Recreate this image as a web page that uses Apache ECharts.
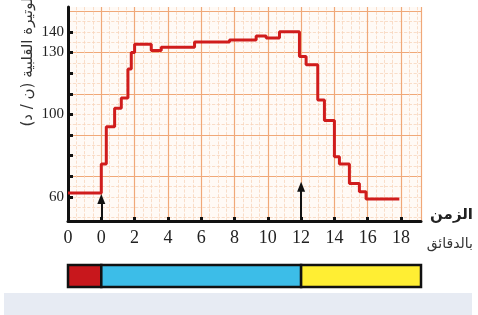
<!DOCTYPE html>
<html>
<head>
<meta charset="utf-8">
<script src="https://cdn.jsdelivr.net/npm/echarts@6.0.0/dist/echarts.min.js"></script>
<style>
  html, body { margin: 0; padding: 0; background: #fff; }
  #chart { width: 478px; height: 315px; }
</style>
</head>
<body>
<div id="chart"></div>
<script>
// heart rate (step curve), minutes vs beats per minute
const times = [-2, 0, 0.3, 0.8, 1.2, 1.6, 1.8, 2.0, 3.0, 3.6, 5.6, 7.7, 9.3, 9.9, 10.7, 11.9, 12.3, 13.0, 13.4, 14.0, 14.3, 14.9, 15.5, 15.9, 17.9];
const rates = [62, 76, 94, 103, 108, 122, 130, 134, 131, 132.5, 135, 136, 138, 137, 140, 128, 124, 107, 97, 79.5, 76, 66.5, 62.5, 59, 59];

// x tick labels (the axis origin is labelled 0 too)
const xTicks = [-2, 0, 2, 4, 6, 8, 10, 12, 14, 16, 18];
const yLabels = [60, 100, 130, 140];
const yTicks = [60, 70, 80, 90, 100, 110, 120, 130, 140];

// arrows marking start / end of effort
const arrowTimes = [0, 12];
const arrowTips = [59, 65];

// phases bar under the chart
const phaseStarts = [-2, 0, 12];
const phaseEnds = [0, 12, 19.2];
const phaseColors = ['#c8171c', '#3cbde8', '#ffee33'];

const xMin = -2, xMax = 19.2;
const yMin = 48.4, yMax = 152;

const majorY = [70, 90, 110, 130, 150];
const minorY = [];
for (let v = 50; v < yMax; v += 5) {
  if (majorY.indexOf(v) < 0) minorY.push(v);
}

const serif = 'Liberation Serif';
const arabic = 'DejaVu Sans';

const chart = echarts.init(document.getElementById('chart'), null, { renderer: 'canvas' });

const yBase = {
  gridIndex: 0,
  type: 'value',
  min: yMin,
  max: yMax,
  axisLine: { show: false },
  axisLabel: { show: false },
  axisTick: { show: false }
};

chart.setOption({
  animation: false,
  grid: [
    { left: 68, top: 7, width: 353, height: 214, show: true, backgroundColor: '#fffaf6', borderWidth: 0 },
    { left: 68, top: 265, width: 353, height: 22 }
  ],
  xAxis: [
    {
      gridIndex: 0,
      type: 'value',
      min: xMin,
      max: xMax,
      interval: 2,
      axisLine: { show: true, onZero: false, lineStyle: { color: '#111', width: 3 } },
      axisTick: { show: true, inside: true, length: 4, lineStyle: { color: '#111', width: 3 } },
      axisLabel: {
        margin: 8,
        fontFamily: serif,
        fontSize: 18,
        color: '#222',
        showMaxLabel: false,
        formatter: v => (xTicks.indexOf(v) < 0 ? '' : (v === -2 ? '0' : String(v)))
      },
      splitLine: { show: true, lineStyle: { color: '#f0a878', width: 1.2 } },
      minorTick: { show: false, splitNumber: 4 },
      minorSplitLine: { show: true, lineStyle: { color: '#f8d6bd', width: 0.8, type: 'dashed' } }
    },
    { gridIndex: 1, type: 'value', min: xMin, max: xMax, show: false }
  ],
  yAxis: [
    {
      gridIndex: 0,
      type: 'value',
      min: yMin,
      max: yMax,
      axisLine: { show: true, onZero: false, lineStyle: { color: '#111', width: 3 } },
      axisTick: { show: true, inside: true, length: 5, customValues: yTicks, lineStyle: { color: '#111', width: 3 } },
      axisLabel: { customValues: yLabels, margin: 4, fontFamily: serif, fontSize: 15, color: '#222' },
      splitLine: { show: false }
    },
    Object.assign({}, yBase, {
      axisTick: { show: false, customValues: majorY },
      splitLine: { show: true, lineStyle: { color: '#f0a878', width: 1.2 } }
    }),
    Object.assign({}, yBase, {
      axisTick: { show: false, customValues: minorY },
      splitLine: { show: true, lineStyle: { color: '#f8d6bd', width: 0.8, type: 'dashed' } }
    }),
    { gridIndex: 1, type: 'value', min: 0, max: 1, show: false }
  ],
  series: [
    {
      type: 'line',
      xAxisIndex: 0,
      yAxisIndex: 0,
      step: 'end',
      symbol: 'none',
      data: times.map((t, i) => [t, rates[i]]),
      lineStyle: { color: '#d01c1c', width: 3 },
      z: 5,
      markLine: {
        silent: true,
        symbol: ['none', 'triangle'],
        symbolSize: [8, 10],
        label: { show: false },
        lineStyle: { color: '#111', width: 2, type: 'solid' },
        data: arrowTimes.map((t, i) => [{ coord: [t, yMin] }, { coord: [t, arrowTips[i]] }])
      }
    },
    {
      type: 'custom',
      xAxisIndex: 1,
      yAxisIndex: 3,
      data: phaseStarts.map((s, i) => [s, phaseEnds[i]]),
      renderItem: function (params, api) {
        const a = api.coord([api.value(0), 1]);
        const b = api.coord([api.value(1), 0]);
        return {
          type: 'rect',
          shape: { x: a[0], y: a[1], width: b[0] - a[0], height: b[1] - a[1] },
          style: { fill: phaseColors[params.dataIndex], stroke: '#111', lineWidth: 2.5 }
        };
      }
    }
  ],
  graphic: [
    {
      type: 'text',
      x: 28,
      y: 60,
      rotation: Math.PI / 2,
      style: {
        text: 'الوتيرة القلبية (ن / د)',
        fontFamily: arabic,
        fontSize: 15,
        fill: '#333',
        align: 'center',
        verticalAlign: 'middle'
      }
    },
    {
      type: 'text',
      right: 5,
      top: 208,
      style: { text: 'الزمن', fontFamily: arabic, fontSize: 15, fontWeight: 'bold', fill: '#222' }
    },
    {
      type: 'text',
      right: 5,
      top: 237,
      style: { text: 'بالدقائق', fontFamily: arabic, fontSize: 14, fill: '#333' }
    },
    {
      type: 'rect',
      shape: { x: 4, y: 293, width: 468, height: 24 },
      style: { fill: '#e7ebf3' }
    }
  ]
});
</script>
</body>
</html>
